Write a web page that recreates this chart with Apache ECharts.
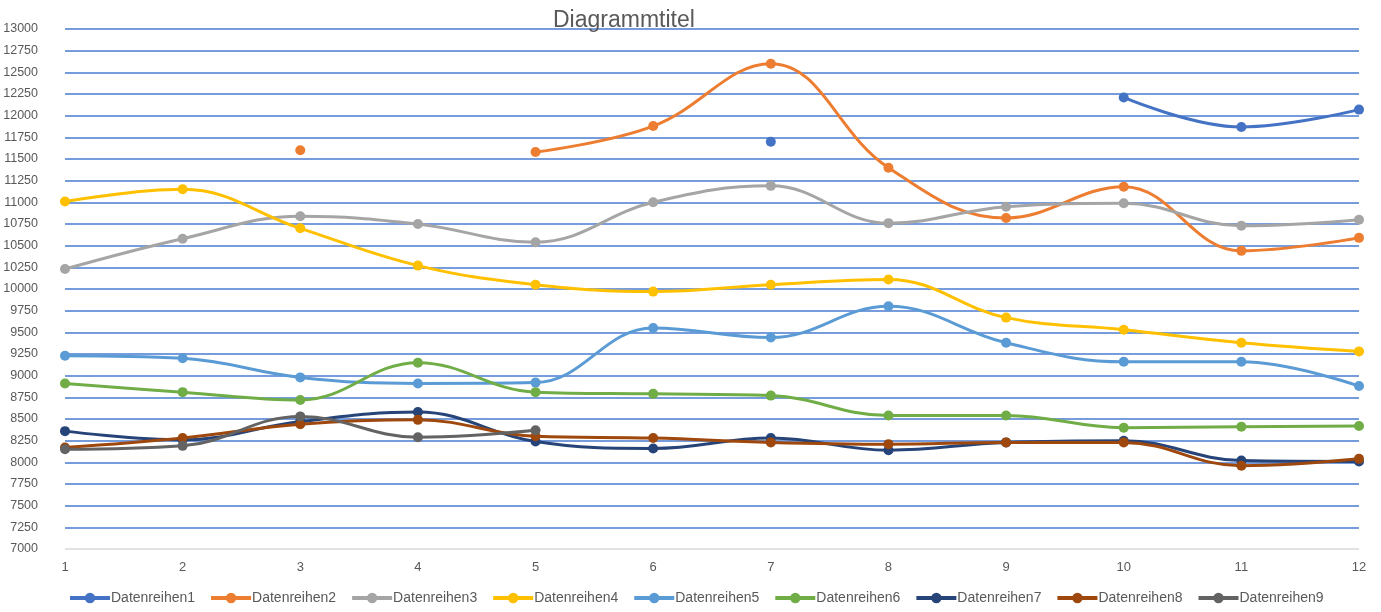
<!DOCTYPE html>
<html>
<head>
<meta charset="utf-8">
<script src="https://cdn.jsdelivr.net/npm/echarts@6/dist/echarts.min.js"></script>
<style>
  html, body { margin: 0; padding: 0; background: #fff; }
  #chart { width: 1381px; height: 612px; }
</style>
</head>
<body>
<div id="chart"></div>
<script>
// Kategorien (x-Achse)
const categories = ["1", "2", "3", "4", "5", "6", "7", "8", "9", "10", "11", "12"];

// Datenreihen (null = kein Wert)
const reihe1 = [null, null, null, null, null, null, 11700, null, null, 12210, 11870, 12070];
const reihe2 = [null, null, 11600, null, 11580, 11880, 12600, 11400, 10820, 11180, 10440, 10590];
const reihe3 = [10230, 10580, 10840, 10750, 10540, 11000, 11190, 10760, 10950, 10990, 10730, 10800];
const reihe4 = [11010, 11150, 10700, 10270, 10050, 9970, 10050, 10110, 9670, 9530, 9380, 9280];
const reihe5 = [9230, 9200, 8980, 8910, 8920, 9550, 9440, 9800, 9380, 9160, 9160, 8880];
const reihe6 = [8910, 8810, 8720, 9150, 8810, 8790, 8770, 8540, 8540, 8400, 8410, 8420];
const reihe7 = [8360, 8260, 8470, 8580, 8240, 8160, 8280, 8140, 8230, 8250, 8020, 8010];
const reihe8 = [8170, 8280, 8440, 8490, 8300, 8280, 8230, 8210, 8230, 8230, 7960, 8040];
const reihe9 = [8150, 8190, 8530, 8290, 8370, null, null, null, null, null, null, null];

const seriesNames = ["Datenreihen1", "Datenreihen2", "Datenreihen3", "Datenreihen4", "Datenreihen5",
  "Datenreihen6", "Datenreihen7", "Datenreihen8", "Datenreihen9"];
const seriesData = [reihe1, reihe2, reihe3, reihe4, reihe5, reihe6, reihe7, reihe8, reihe9];
const colors = ["#4472C4", "#ED7D31", "#A5A5A5", "#FFC000", "#5B9BD5", "#70AD47", "#264478", "#9E480E", "#636363"];

// Gitterlinien: unterste (7000) hellgrau, Rest blau
const gridColors = [];
for (let v = 7000; v <= 13000; v += 250) gridColors.push(v === 7000 ? "#D9D9D9" : "#4A7BD0");

const font = "'Liberation Sans', sans-serif";

const myChart = echarts.init(document.getElementById("chart"));
myChart.setOption({
  color: colors,
  animation: false,
  title: {
    text: "Diagrammtitel",
    left: 548,
    top: 4,
    textStyle: { fontFamily: font, fontSize: 23, fontWeight: "normal", color: "#595959" },
  },
  grid: { left: 65, right: 22, top: 29, bottom: 63, outerBoundsMode: "none" },
  legend: {
    data: seriesNames,
    bottom: 2,
    left: 63,
    itemWidth: 40,
    itemHeight: 13,
    itemGap: 14,
    lineStyle: { width: 4 },
    textStyle: { fontFamily: font, fontSize: 14, color: "#595959", padding: [0, 0, 0, -4] },
  },
  xAxis: {
    type: "category",
    data: categories,
    boundaryGap: false,
    axisLine: { show: false },
    axisTick: { show: false },
    axisLabel: { fontFamily: font, fontSize: 13, color: "#595959", margin: 12 },
  },
  yAxis: {
    type: "value",
    min: 7000,
    max: 13000,
    interval: 250,
    axisLine: { show: false },
    axisTick: { show: false },
    axisLabel: {
      fontFamily: font, fontSize: 12.5, color: "#595959", margin: 27,
      formatter: (v) => String(v),
    },
    splitLine: { lineStyle: { width: 1.5, color: gridColors } },
  },
  series: seriesData.map((d, i) => ({
    name: seriesNames[i],
    type: "line",
    data: d,
    smooth: 0.4,
    symbol: "circle",
    symbolSize: 10,
    showSymbol: true,
    lineStyle: { width: 3 },
  })),
});
</script>
</body>
</html>
